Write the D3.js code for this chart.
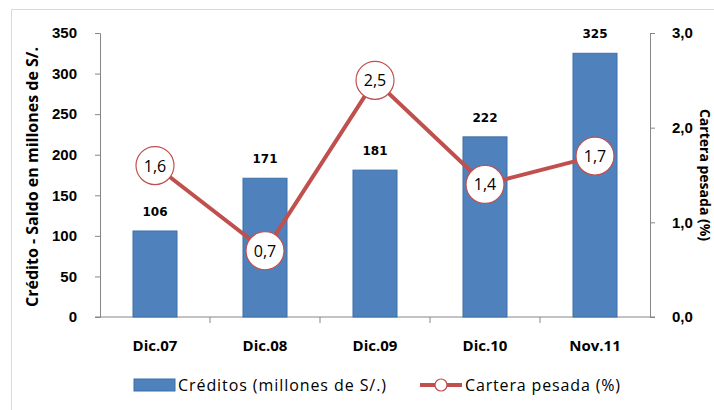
<!DOCTYPE html>
<html>
<head>
<meta charset="utf-8">
<script src="https://cdn.jsdelivr.net/npm/d3@7"></script>
<style>
  body { margin: 0; background: #fff; }
  svg { display: block; font-family: "Open Sans", "Lato", sans-serif; }
</style>
</head>
<body>
<svg id="chart" width="714" height="410"></svg>
<script>
// data
const periods = ['Dic.07', 'Dic.08', 'Dic.09', 'Dic.10', 'Nov.11']
const creditos = [106, 171, 181, 222, 325]
const cartera = [1.6, 0.7, 2.5, 1.4, 1.7]
const leftTicks = [0, 50, 100, 150, 200, 250, 300, 350]
const rightTicks = [0, 1, 2, 3]

const svg = d3.select('#chart')
const margin = { left: 100, right: 64, top: 33, bottom: 93 }
const W = 714, H = 410
const x0 = margin.left, x1 = W - margin.right
const y0 = H - margin.bottom, y1 = margin.top

const barColor = '#4f81bd'
const lineColor = '#c0504d'
const axisColor = '#868686'

// chart frame
svg.append('rect')
    .attr('x', 11.5).attr('y', 9.5)
    .attr('width', W).attr('height', H)
    .attr('fill', 'none')
    .attr('stroke', '#d9d9d9')

const x = d3.scaleBand().domain(periods).range([x0, x1]).paddingInner(0).paddingOuter(0)
const y = d3.scaleLinear().domain([0, 350]).range([y0, y1])
const yR = d3.scaleLinear().domain([0, 3]).range([y0, y1])

// left axis
const gL = svg.append('g').attr('transform', `translate(${x0},0)`)
    .call(d3.axisLeft(y).tickValues(leftTicks).tickSize(5).tickPadding(18))
gL.selectAll('path, line').attr('stroke', axisColor)
gL.selectAll('text').attr('font-size', 15).attr('font-weight', 'bold').attr('fill', '#000')

// right axis
const gR = svg.append('g').attr('transform', `translate(${x1},0)`)
    .call(d3.axisRight(yR).tickValues(rightTicks).tickSize(5).tickPadding(17)
      .tickFormat(d => d3.format('.1f')(d).replace('.', ',')))
gR.selectAll('path, line').attr('stroke', axisColor)
gR.selectAll('text').attr('font-size', 15).attr('font-weight', 'bold').attr('fill', '#000')

// bottom axis with ticks on category boundaries
const gB = svg.append('g').attr('transform', `translate(0,${y0})`)
gB.append('line').attr('x1', x0 - 5).attr('x2', x1 + 5)
    .attr('stroke', axisColor)
gB.selectAll('line.tk').data(periods.slice(1)).join('line')
    .attr('class', 'tk')
    .attr('x1', d => x(d)).attr('x2', d => x(d))
    .attr('y1', 0).attr('y2', 6)
    .attr('stroke', axisColor)
gB.selectAll('text').data(periods).join('text')
    .attr('x', d => x(d) + x.bandwidth() / 2)
    .attr('y', 34)
    .attr('text-anchor', 'middle')
    .attr('font-size', 15).attr('font-weight', 'bold')
    .text(d => d)

// bars
const bw = x.bandwidth() * 0.4
svg.selectAll('rect.bar').data(creditos).join('rect')
    .attr('class', 'bar')
    .attr('x', (d, i) => x(periods[i]) + x.bandwidth() / 2 - bw / 2)
    .attr('y', d => y(d))
    .attr('width', bw)
    .attr('height', d => y0 - y(d))
    .attr('fill', barColor)
    .attr('stroke', '#3d6fa8').attr('stroke-width', 1)

svg.selectAll('text.blab').data(creditos).join('text')
    .attr('class', 'blab')
    .attr('x', (d, i) => x(periods[i]) + x.bandwidth() / 2)
    .attr('y', d => y(d) - 15)
    .attr('text-anchor', 'middle')
    .attr('font-family', 'DejaVu Sans')
    .attr('font-size', 12).attr('font-weight', 'bold')
    .text(d => d)

// line
const line = d3.line()
    .x((d, i) => x(periods[i]) + x.bandwidth() / 2)
    .y(d => yR(d))
svg.append('path').datum(cartera)
    .attr('d', line)
    .attr('fill', 'none')
    .attr('stroke', lineColor)
    .attr('stroke-width', 4)

svg.selectAll('circle.pt').data(cartera).join('circle')
    .attr('class', 'pt')
    .attr('cx', (d, i) => x(periods[i]) + x.bandwidth() / 2)
    .attr('cy', d => yR(d))
    .attr('r', 19)
    .attr('fill', '#fff')
    .attr('stroke', lineColor).attr('stroke-width', 1.2)

svg.selectAll('text.plab').data(cartera).join('text')
    .attr('class', 'plab')
    .attr('x', (d, i) => x(periods[i]) + x.bandwidth() / 2)
    .attr('y', d => yR(d) + 6)
    .attr('text-anchor', 'middle')
    .attr('font-size', 16)
    .text(d => d3.format('.1f')(d).replace('.', ','))

// axis titles
svg.append('text')
    .attr('transform', `translate(38,${(y0 + y1) / 2 + 2}) rotate(-90)`)
    .attr('text-anchor', 'middle')
    .attr('font-size', 16).attr('font-weight', 'bold')
    .text('Crédito - Saldo en millones de S/.')

svg.append('text')
    .attr('transform', `translate(700,${(y0 + y1) / 2}) rotate(90)`)
    .attr('text-anchor', 'middle')
    .attr('font-size', 14).attr('font-weight', 'bold')
    .text('Cartera pesada (%)')

// legend
const lg = svg.append('g').attr('transform', 'translate(0,385)')
lg.append('rect').attr('x', 134).attr('y', -6).attr('width', 41).attr('height', 12)
    .attr('fill', barColor).attr('stroke', '#3d6fa8')
lg.append('text').attr('x', 178).attr('y', 6).attr('font-size', 16)
    .attr('textLength', 208).attr('lengthAdjust', 'spacing')
    .text('Créditos (millones de S/.)')
lg.append('line').attr('x1', 420).attr('x2', 462).attr('stroke', lineColor).attr('stroke-width', 4)
lg.append('circle').attr('cx', 441).attr('r', 6).attr('fill', '#fff')
    .attr('stroke', lineColor).attr('stroke-width', 1.2)
lg.append('text').attr('x', 465).attr('y', 6).attr('font-size', 16)
    .attr('textLength', 155).attr('lengthAdjust', 'spacing')
    .text('Cartera pesada (%)')
</script>
</body>
</html>
